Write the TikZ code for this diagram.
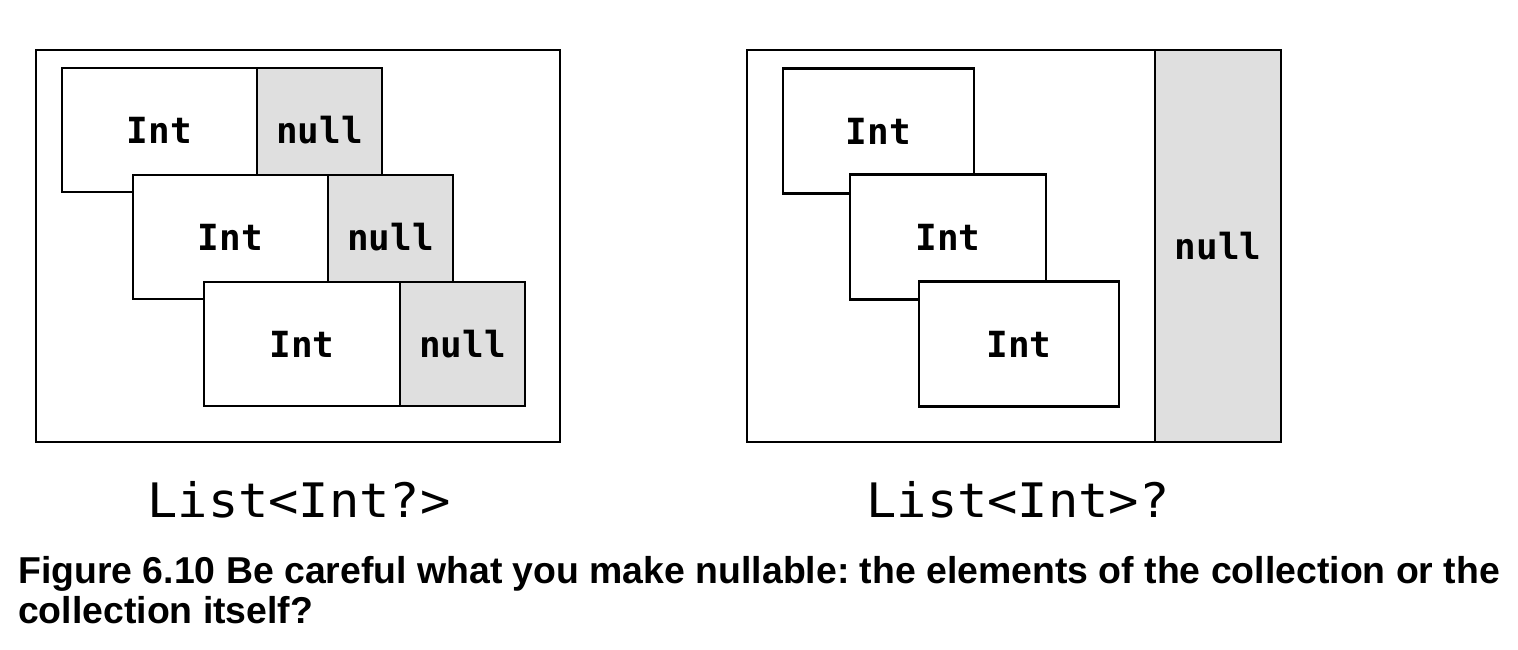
\documentclass[tikz,border=0pt]{standalone}
\usepackage{fontspec}
\setmainfont{Liberation Sans}
\newfontfamily\cellmono{DejaVu Sans Mono}
\newfontfamily\labelmono[FakeStretch=1.06]{DejaVu Sans Mono}
\frenchspacing
\begin{document}
\begin{tikzpicture}[x=1pt,y=-1pt,
  frame/.style={draw=black, line width=2.8pt, fill=white},
  cell/.style={draw=black, line width=2.8pt, fill=white, inner sep=0pt,
     font=\cellmono\bfseries\fontsize{36}{36}\selectfont},
  nullcell/.style={cell, fill=nullgray},
  typelabel/.style={inner sep=0pt, anchor=base, font=\labelmono\fontsize{47.5}{47.5}\selectfont},
  captiontext/.style={inner sep=0pt, anchor=base west, font=\bfseries\fontsize{37.4}{40}\selectfont}
]
\definecolor{nullgray}{RGB}{223,223,223}
\useasboundingbox (0,0) rectangle (1518,650);

% ---------- left panel: List<Int?> ----------
\node[frame, minimum width=524pt, minimum height=392pt] (outerL) at (298,246) {};
% row 1
\node[cell, minimum width=195pt, minimum height=124pt] (li1) at (159.5,130) {Int};
\node[nullcell, minimum width=125pt, minimum height=124pt] (ln1) at (319.5,130) {null};
% row 2
\node[cell, minimum width=195pt, minimum height=124pt] (li2) at (230.5,237) {Int};
\node[nullcell, minimum width=125pt, minimum height=124pt] (ln2) at (390.5,237) {null};
% row 3
\node[cell, minimum width=196pt, minimum height=124pt] (li3) at (302,344) {Int};
\node[nullcell, minimum width=125pt, minimum height=124pt] (ln3) at (462.5,344) {null};

\node[typelabel] (labL) at (299,517) {List<Int?>};

% ---------- right panel: List<Int>? ----------
\node[frame, minimum width=534pt, minimum height=392pt] (outerR) at (1014,246) {};
\node[nullcell, minimum width=126pt, minimum height=392pt] (rnull) at (1218,246) {null};
\node[cell, minimum width=191pt, minimum height=125pt] (ri1) at (878.5,131) {Int};
\node[cell, minimum width=196pt, minimum height=125pt] (ri2) at (948,237) {Int};
\node[cell, minimum width=200pt, minimum height=125pt] (ri3) at (1019,344) {Int};

\node[typelabel] (labR) at (1018,517) {List<Int>?};

% ---------- caption ----------
\node[captiontext] (cap1) at (18,583) {Figure 6.10 Be careful what you make nullable: the elements of the collection or the};
\node[captiontext] (cap2) at (18,623) {collection itself?};
\end{tikzpicture}
\end{document}
